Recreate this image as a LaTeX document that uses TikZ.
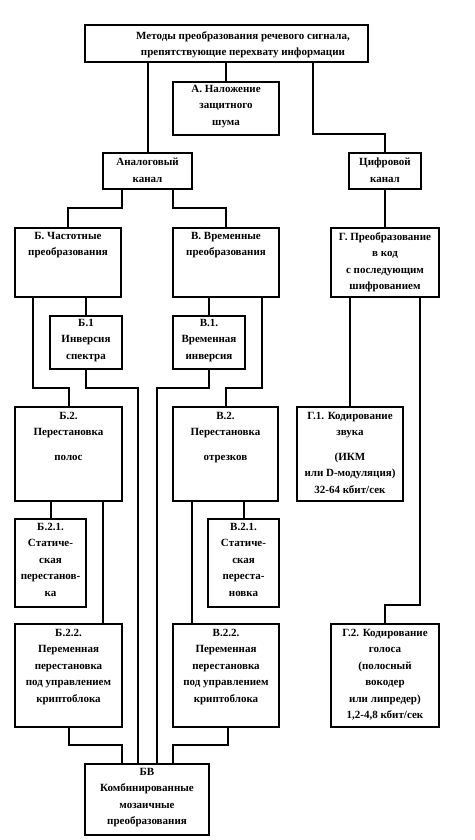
\documentclass[tikz,border=0pt]{standalone}
\usepackage{fontspec}
\setmainfont{Liberation Serif}
\begin{document}
\begin{tikzpicture}[x=1pt,y=-1pt,
  box/.style={draw,line width=2.4pt,inner sep=0pt,outer sep=0pt},
  txt/.style={anchor=north,align=center,inner sep=0pt,font=\fontsize{11}{16.5}\selectfont\bfseries},
  con/.style={line width=2pt,line join=miter},
  thin/.style={line width=1.6pt,line join=miter}]
\useasboundingbox (0,0) rectangle (474,840);
\newcommand\bx[5]{\node[box,minimum width={(#4-#2)*1pt},minimum height={(#5-#3)*1pt}] (#1) at ({(#2+#4)/2},{(#3+#5)/2}) {};}
% boxes
\bx{tm}{85}{25}{368}{62}
\bx{A}{173}{82}{279}{135}
\bx{an}{103}{153}{192}{189}
\bx{cf}{349}{153}{421}{189}
\bx{B}{15}{228}{121}{297}
\bx{V}{173}{228}{279}{297}
\bx{G}{331}{228}{439}{297}
\bx{B1}{50}{316}{122}{369}
\bx{V1}{173}{316}{245}{369}
\bx{B2}{15}{407}{122}{501}
\bx{V2}{173}{407}{278}{501}
\bx{G1}{297}{407}{403}{501}
\bx{B21}{15}{519}{86}{607}
\bx{V21}{208}{519}{279}{607}
\bx{B22}{15}{624}{122}{727}
\bx{V22}{173}{624}{279}{727}
\bx{G2}{331}{624}{439}{727}
\bx{BV}{85}{764}{209}{835}
% texts
\node[txt] (ttm) at (243,31) {Методы преобразования речевого сигнала,\\препятствующие перехвату информации};
\node[txt] (tA) at (226,85) {А. Наложение\\защитного\\шума};
\node[txt] (tan) at (147.5,158) {Аналоговый\\канал};
\node[txt] (tcf) at (385,158) {Цифровой\\канал};
\node[txt] (tB) at (68,232) {Б. Частотные\\преобразования};
\node[txt] (tV) at (226,232) {В. Временные\\преобразования};
\node[txt] (tG) at (385,232) {Г. Преобразование\\в код\\с последующим\\шифрованием};
\node[txt] (tB1) at (86,319) {Б.1\\Инверсия\\спектра};
\node[txt] (tV1) at (209,319) {В.1.\\Временная\\инверсия};
\node[txt] (tB2) at (68.5,412) {Б.2.\\Перестановка\\[8pt]полос};
\node[txt] (tV2) at (225.5,412) {В.2.\\Перестановка\\[8pt]отрезков};
\node[txt] (tG1) at (350,412) {Г.1. Кодирование\\звука\\[8pt](ИКМ\\или D-модуляция)\\32-64 кбит/сек};
\node[txt] (tB21) at (50.5,523) {Б.2.1.\\Статиче-\\ская\\перестанов-\\ка};
\node[txt] (tV21) at (243.5,523) {В.2.1.\\Статиче-\\ская\\переста-\\новка};
\node[txt] (tB22) at (68.5,629) {Б.2.2.\\Переменная\\перестановка\\под управлением\\криптоблока};
\node[txt] (tV22) at (226,629) {В.2.2.\\Переменная\\перестановка\\под управлением\\криптоблока};
\node[txt] (tG2) at (385,629) {Г.2. Кодирование\\голоса\\(полосный\\вокодер\\или липредер)\\1,2-4,8 кбит/сек};
\node[txt] (tBV) at (147,768) {БВ\\Комбинированные\\мозаичные\\преобразования};
% connectors
\draw[con] (tm.south -| an.north) -- (an.north);
\draw[con] (tm.south -| A.north) -- (A.north);
\draw[con] (tm.south -| 313,0) -- (313,134) -| (cf.north);
\draw[con] (an.south -| 122,0) -- (122,208) -| (B.north);
\draw[con] (an.south -| 173,0) -- (173,208) -| (V.north);
\draw[con] (cf.south) -- (cf.south |- G.north);
\draw[con] (B.south -| B1.north) -- (B1.north);
\draw[con] (B.south -| 33,0) -- (33,388) -| (B2.north);
\draw[con] (B1.south) |- (138,388) -- (BV.north -| 138,0);
\draw[con] (V.south -| V1.north) -- (V1.north);
\draw[con] (V.south -| 262,0) -- (262,388) -| (V2.north);
\draw[con] (V1.south) |- (157,388) -- (BV.north -| 157,0);
\draw[thin] (G.south -| G1.north) -- (G1.north);
\draw[thin] (G.south -| 420,0) -- (420,605) -| (G2.north);
\draw[con] (B2.south -| B21.north) -- (B21.north);
\draw[con] (B2.south -| 103,0) -- (B22.north -| 103,0);
\draw[con] (V2.south -| 192,0) -- (V22.north -| 192,0);
\draw[con] (V2.south -| V21.north) -- (V21.north);
\draw[con] (B22.south) |- (122,745) -- (BV.north -| 122,0);
\draw[con] (V22.south -| 228,0) -- (228,745) -| (BV.north -| 173,0);
\end{tikzpicture}
\end{document}
